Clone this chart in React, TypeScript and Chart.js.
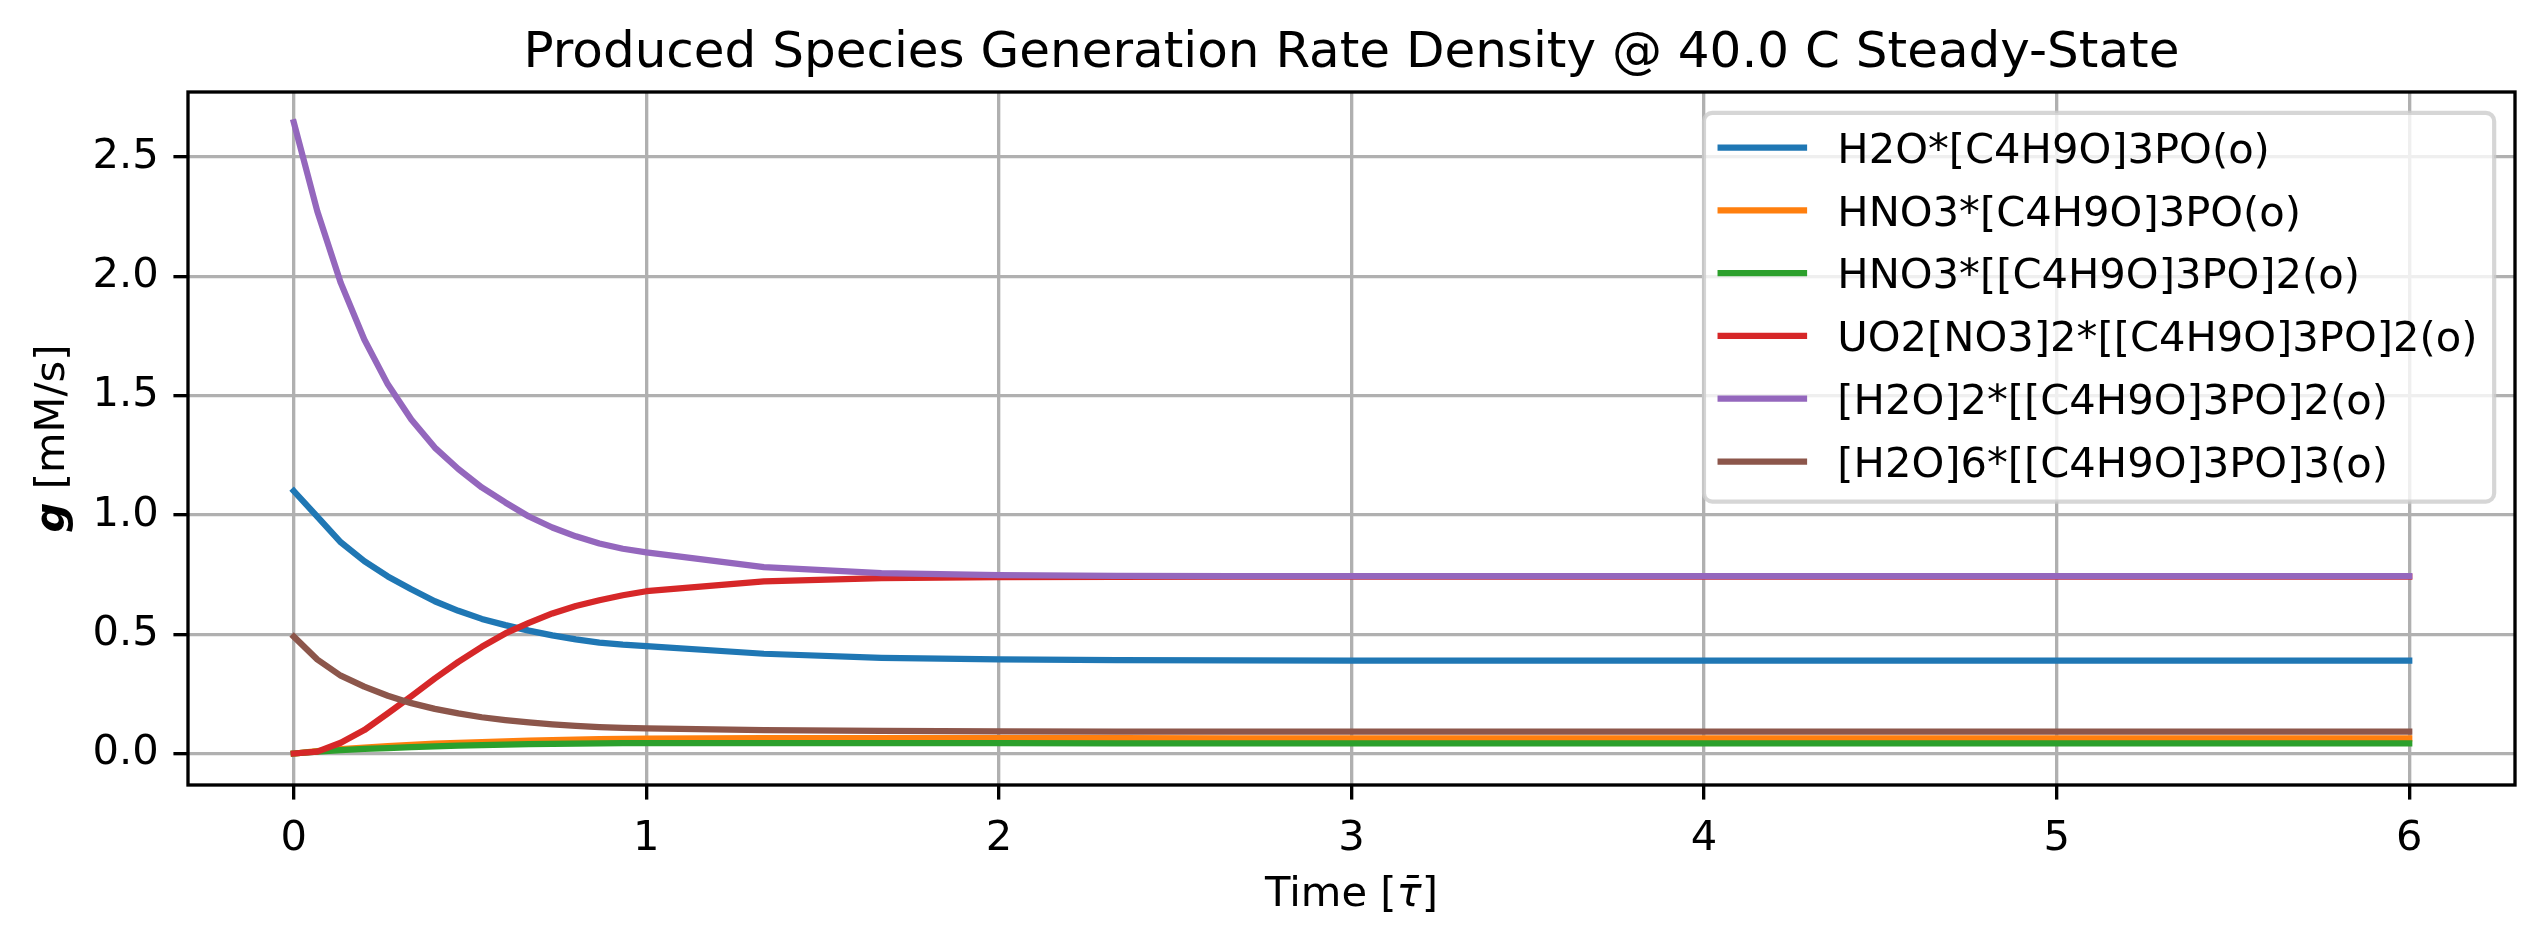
import React, { useEffect, useRef } from 'react';
import { Chart, registerables } from 'chart.js';

Chart.register(...registerables);

// ---- text ----
const TITLE = 'Produced Species Generation Rate Density @ 40.0 C Steady-State';
const X_LABEL_PREFIX = 'Time [';
const X_LABEL_SYMBOL = 'τ\u0304';
const X_LABEL_SUFFIX = ']';
const Y_LABEL_SYMBOL = 'g';
const Y_LABEL_UNITS = ' [mM/s]';

// ---- data ----
const TIME = [
  0, 0.0667, 0.1333, 0.2, 0.2667, 0.3333, 0.4, 0.4667, 0.5333, 0.6, 0.6667, 0.7333, 0.8, 0.8667, 0.9333, 1.0,
  1.3333, 1.6667, 2.0, 2.3333, 2.6667, 3.0, 3.3333, 3.6667, 4.0, 4.3333, 4.6667, 5.0, 5.3333, 5.6667, 6.0,
];

const H2O_TBP = [
  1.1, 0.993, 0.885, 0.806, 0.742, 0.688, 0.638, 0.598, 0.564, 0.538, 0.515, 0.495, 0.478, 0.465, 0.456, 0.45,
  0.418, 0.401, 0.394, 0.391, 0.39, 0.389, 0.389, 0.389, 0.389, 0.389, 0.389, 0.389, 0.389, 0.389, 0.389,
];
const HNO3_TBP = [
  0, 0.01, 0.018, 0.025, 0.031, 0.036, 0.041, 0.045, 0.048, 0.051, 0.054, 0.056, 0.058, 0.06, 0.061, 0.062,
  0.064, 0.064, 0.064, 0.064, 0.063, 0.063, 0.063, 0.063, 0.063, 0.063, 0.063, 0.063, 0.063, 0.063, 0.063,
];
const HNO3_TBP2 = [
  0, 0.008, 0.014, 0.019, 0.023, 0.027, 0.03, 0.033, 0.035, 0.037, 0.039, 0.04, 0.041, 0.042, 0.043, 0.043,
  0.043, 0.043, 0.043, 0.042, 0.042, 0.042, 0.042, 0.042, 0.042, 0.042, 0.042, 0.042, 0.042, 0.042, 0.042,
];
const UO2_NO3_TBP2 = [
  0, 0.008, 0.045, 0.098, 0.168, 0.24, 0.314, 0.384, 0.447, 0.503, 0.547, 0.587, 0.618, 0.642, 0.663, 0.68,
  0.721, 0.735, 0.739, 0.74, 0.741, 0.741, 0.741, 0.741, 0.741, 0.741, 0.741, 0.741, 0.741, 0.741, 0.741,
];
const H2O2_TBP2 = [
  2.645, 2.272, 1.972, 1.735, 1.547, 1.4, 1.282, 1.192, 1.115, 1.052, 0.993, 0.947, 0.91, 0.88, 0.858, 0.843,
  0.781, 0.756, 0.747, 0.744, 0.743, 0.743, 0.743, 0.743, 0.743, 0.743, 0.743, 0.743, 0.743, 0.743, 0.743,
];
const H2O6_TBP3 = [
  0.49, 0.394, 0.326, 0.28, 0.242, 0.211, 0.187, 0.168, 0.152, 0.14, 0.13, 0.122, 0.116, 0.111, 0.107, 0.105,
  0.098, 0.095, 0.093, 0.092, 0.092, 0.092, 0.092, 0.092, 0.092, 0.092, 0.092, 0.092, 0.092, 0.092, 0.092,
];

const SERIES_NAMES = [
  'H2O*[C4H9O]3PO(o)',
  'HNO3*[C4H9O]3PO(o)',
  'HNO3*[[C4H9O]3PO]2(o)',
  'UO2[NO3]2*[[C4H9O]3PO]2(o)',
  '[H2O]2*[[C4H9O]3PO]2(o)',
  '[H2O]6*[[C4H9O]3PO]3(o)',
];
const SERIES_VALUES = [H2O_TBP, HNO3_TBP, HNO3_TBP2, UO2_NO3_TBP2, H2O2_TBP2, H2O6_TBP3];
const SERIES_COLORS = ['#1f77b4', '#ff7f0e', '#2ca02c', '#d62728', '#9467bd', '#8c564b'];

const X_TICKS = [0, 1, 2, 3, 4, 5, 6];
const Y_TICKS = [0, 0.5, 1.0, 1.5, 2.0, 2.5];
const X_RANGE = [-0.3, 6.3];
const Y_RANGE = [-0.132, 2.772];

// ---- styling (300 dpi figure: 1 pt = 300/72 px) ----
const PT = 300 / 72;
const FONT = '"DejaVu Sans", "Liberation Sans", sans-serif';
const FS = 10 * PT; // tick, label and legend size
const TITLE_FS = 12 * PT;
const LINE_W = 1.5 * PT;
const THIN_W = 0.8 * PT;
const TICK_LEN = 3.5 * PT;
const TICK_PAD = 3.5 * PT;
const W = 2543;
const H = 945;
const AREA = { left: 188, top: 92, right: 2515, bottom: 785 };

const decorations = {
  id: 'decorations',
  afterDatasetsDraw(chart: any) {
    const { ctx, chartArea: a } = chart;
    ctx.save();
    // axes frame
    ctx.strokeStyle = '#000';
    ctx.lineWidth = THIN_W;
    ctx.strokeRect(a.left, a.top, a.right - a.left, a.bottom - a.top);

    // legend, upper right inside the axes
    ctx.font = `${FS}px ${FONT}`;
    const maxText = Math.max(...SERIES_NAMES.map((n) => ctx.measureText(n).width));
    const pad = 0.4 * FS;
    const handle = 2.0 * FS;
    const textPad = 0.8 * FS;
    const boxW = pad + handle + textPad + maxText + pad;
    const boxH = 9.33 * FS;
    const right = a.right - 0.5 * FS;
    const top = a.top + 0.5 * FS;
    const left = right - boxW;
    const r = 0.2 * FS;
    ctx.beginPath();
    ctx.roundRect(left, top, boxW, boxH, r);
    ctx.fillStyle = 'rgba(255,255,255,0.8)';
    ctx.fill();
    ctx.strokeStyle = 'rgba(204,204,204,0.8)';
    ctx.lineWidth = 1.0 * PT;
    ctx.stroke();

    const rowPitch = 1.507 * FS;
    const firstRow = top + 0.833 * FS;
    SERIES_NAMES.forEach((name, i) => {
      const y = firstRow + i * rowPitch;
      ctx.beginPath();
      ctx.moveTo(left + pad, y);
      ctx.lineTo(left + pad + handle, y);
      ctx.strokeStyle = SERIES_COLORS[i];
      ctx.lineWidth = LINE_W;
      ctx.lineCap = 'square';
      ctx.stroke();
      ctx.fillStyle = '#000';
      ctx.textAlign = 'left';
      ctx.textBaseline = 'alphabetic';
      ctx.fillText(name, left + pad + handle + textPad, y + 0.365 * FS);
    });
    ctx.restore();
  },
  afterDraw(chart: any) {
    const { ctx, chartArea: a } = chart;
    const cx = (a.left + a.right) / 2;
    const cy = (a.top + a.bottom) / 2;
    ctx.save();
    ctx.fillStyle = '#000';
    ctx.textBaseline = 'alphabetic';

    // title
    ctx.font = `${TITLE_FS}px ${FONT}`;
    ctx.textAlign = 'center';
    ctx.fillText(TITLE, cx, a.top - 6 * PT);

    // x label: Time [τ̄]
    const normal = `${FS}px ${FONT}`;
    const oblique = `italic ${FS}px ${FONT}`;
    ctx.textAlign = 'left';
    ctx.font = normal;
    const w1 = ctx.measureText(X_LABEL_PREFIX).width;
    const w3 = ctx.measureText(X_LABEL_SUFFIX).width;
    ctx.font = oblique;
    const w2 = ctx.measureText(X_LABEL_SYMBOL).width;
    let x = cx - (w1 + w2 + w3) / 2;
    const xBase = 906;
    ctx.font = normal;
    ctx.fillText(X_LABEL_PREFIX, x, xBase);
    x += w1;
    ctx.font = oblique;
    ctx.fillText(X_LABEL_SYMBOL, x, xBase);
    x += w2;
    ctx.font = normal;
    ctx.fillText(X_LABEL_SUFFIX, x, xBase);

    // y label: g [mM/s], rotated
    const bold = `italic bold ${FS}px ${FONT}`;
    ctx.font = bold;
    const g1 = ctx.measureText(Y_LABEL_SYMBOL).width;
    ctx.font = normal;
    const g2 = ctx.measureText(Y_LABEL_UNITS).width;
    ctx.translate(63.5, cy);
    ctx.rotate(-Math.PI / 2);
    let yx = -(g1 + g2) / 2;
    ctx.font = bold;
    ctx.fillText(Y_LABEL_SYMBOL, yx, 0);
    yx += g1;
    ctx.font = normal;
    ctx.fillText(Y_LABEL_UNITS, yx, 0);
    ctx.restore();
  },
};

export default function App() {
  const canvasRef = useRef<HTMLCanvasElement | null>(null);

  useEffect(() => {
    const canvas = canvasRef.current;
    if (!canvas) return;
    const n = SERIES_VALUES.length;
    const chart = new Chart(canvas, {
      type: 'line',
      data: {
        datasets: SERIES_VALUES.map((vals, i) => ({
          label: SERIES_NAMES[i],
          data: TIME.map((t, k) => ({ x: t, y: vals[k] })),
          borderColor: SERIES_COLORS[i],
          backgroundColor: SERIES_COLORS[i],
          borderWidth: LINE_W,
          borderCapStyle: 'square' as const,
          borderJoinStyle: 'round' as const,
          pointRadius: 0,
          pointHoverRadius: 0,
          tension: 0,
          fill: false,
          order: n - i,
        })),
      },
      options: {
        animation: false,
        responsive: false,
        devicePixelRatio: 1,
        events: [],
        layout: { padding: { left: 0, top: AREA.top, right: W - AREA.right, bottom: 0 } },
        plugins: {
          legend: { display: false },
          title: { display: false },
          tooltip: { enabled: false },
        },
        scales: {
          x: {
            type: 'linear',
            min: X_RANGE[0],
            max: X_RANGE[1],
            afterBuildTicks: (scale: any) => {
              scale.ticks = X_TICKS.map((v) => ({ value: v }));
            },
            afterFit: (scale: any) => {
              scale.height = H - AREA.bottom;
            },
            border: { display: false },
            grid: {
              color: '#b0b0b0',
              lineWidth: THIN_W,
              drawTicks: true,
              tickLength: TICK_LEN,
              tickColor: '#000',
              tickWidth: THIN_W,
            },
            ticks: {
              color: '#000',
              font: { family: FONT, size: FS },
              padding: TICK_PAD,
              maxRotation: 0,
              autoSkip: false,
              callback: (v: any) => String(v),
            },
          },
          y: {
            type: 'linear',
            min: Y_RANGE[0],
            max: Y_RANGE[1],
            afterBuildTicks: (scale: any) => {
              scale.ticks = Y_TICKS.map((v) => ({ value: v }));
            },
            afterFit: (scale: any) => {
              scale.width = AREA.left;
            },
            border: { display: false },
            grid: {
              color: '#b0b0b0',
              lineWidth: THIN_W,
              drawTicks: true,
              tickLength: TICK_LEN,
              tickColor: '#000',
              tickWidth: THIN_W,
            },
            ticks: {
              color: '#000',
              font: { family: FONT, size: FS },
              padding: TICK_PAD,
              autoSkip: false,
              callback: (v: any) => Number(v).toFixed(1),
            },
          },
        },
      },
      plugins: [decorations],
    });
    return () => chart.destroy();
  }, []);

  return (
    <div style={{ position: 'fixed', left: 0, top: 0, width: W, height: H, background: '#fff' }}>
      <canvas ref={canvasRef} width={W} height={H} style={{ display: 'block' }} />
    </div>
  );
}
